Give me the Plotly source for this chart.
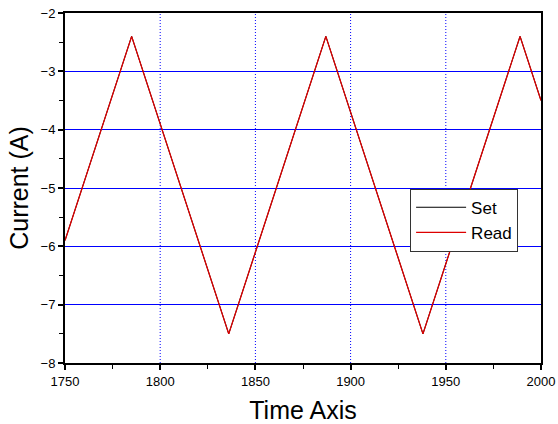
import plotly.graph_objects as go

# Triangle-wave vertices
time_x = [1750, 1785, 1836, 1887, 1938, 1989, 2000]
set_y = [-5.9, -2.4, -7.5, -2.4, -7.5, -2.4, -3.5]
read_y = [-5.9, -2.4, -7.5, -2.4, -7.5, -2.4, -3.5]

x_ticks = [1750, 1800, 1850, 1900, 1950, 2000]
y_ticks = [-8, -7, -6, -5, -4, -3, -2]
vgrid = [1800, 1850, 1900, 1950]

FONT = "Liberation Sans, Arial, Helvetica, sans-serif"

fig = go.Figure()
fig.add_trace(go.Scatter(x=time_x, y=set_y, mode="lines", name="Set",
                         line=dict(color="black", width=1)))
fig.add_trace(go.Scatter(x=time_x, y=read_y, mode="lines", name="Read",
                         line=dict(color="#dd0000", width=1.3)))

# dotted vertical grid lines
for xv in vgrid:
    fig.add_shape(type="line", xref="x", yref="paper", x0=xv, x1=xv, y0=0, y1=1,
                  line=dict(color="#0000ff", width=1, dash="1px,2px"), layer="below")

fig.update_layout(
    width=558, height=424,
    margin=dict(l=65, r=17, t=13, b=61, autoexpand=False),
    plot_bgcolor="white", paper_bgcolor="white",
    font=dict(family=FONT, color="black", size=13),
    showlegend=True,
    legend=dict(x=0.725, y=0.498, xanchor="left", yanchor="top",
                bordercolor="#333333", borderwidth=1, bgcolor="white",
                font=dict(size=17, family=FONT), tracegroupgap=0,
                itemwidth=50),
    xaxis=dict(range=[1750, 2000], tickvals=x_ticks, showgrid=False, automargin=False,
               showline=True, linecolor="black", linewidth=2, mirror=True,
               ticks="outside", ticklen=5, tickwidth=1.5, tickcolor="black",
               minor=dict(dtick=25, ticks="outside", ticklen=4, tickcolor="black", tickwidth=1),
               zeroline=False, tickfont=dict(size=13),
               title=dict(text="Time Axis", font=dict(size=25), standoff=14)),
    yaxis=dict(range=[-8, -2], tickvals=y_ticks, showgrid=True, automargin=False,
               gridcolor="#0000ff", gridwidth=1,
               showline=True, linecolor="black", linewidth=2, mirror=True,
               ticks="outside", ticklen=5, tickwidth=1.5, tickcolor="black",
               minor=dict(dtick=0.5, ticks="outside", ticklen=4, tickcolor="black", tickwidth=1, showgrid=False),
               zeroline=False, tickfont=dict(size=13),
               title=dict(text="Current (A)", font=dict(size=25), standoff=5)),
)

fig.write_html("out.html")
